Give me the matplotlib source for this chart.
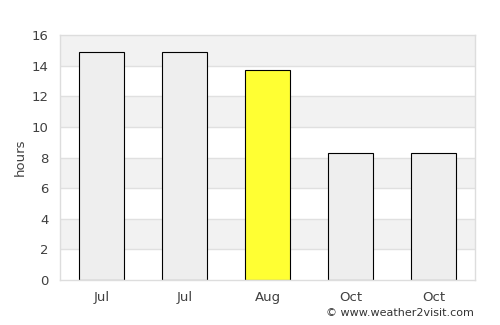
import matplotlib
matplotlib.use("Agg")
import matplotlib.pyplot as plt

months = ["Jul", "Jul", "Aug", "Oct", "Oct"]
hours = [14.9, 14.9, 13.7, 8.3, 8.3]
bar_colors = ["#eeeeee", "#eeeeee", "#ffff33", "#eeeeee", "#eeeeee"]
y_ticks = [0, 2, 4, 6, 8, 10, 12, 14, 16]

fig = plt.figure(figsize=(5, 3.25), dpi=100)
ax = fig.add_axes([0.12, 0.1385, 0.83, 0.7535])

# alternating background bands
for lo in range(0, 16, 2):
    ax.axhspan(lo, lo + 2, color="#f2f2f2" if (lo // 2) % 2 == 1 else "white", zorder=0, lw=0)
for t in y_ticks[1:-1]:
    ax.axhline(t, color="#e0e0e0", lw=1, zorder=1)

ax.bar(range(len(months)), hours, width=0.55, color=bar_colors,
       edgecolor="black", linewidth=0.8, zorder=2)

ax.set_xlim(-0.5, len(months) - 0.5)
ax.set_ylim(0, 16)
ax.set_yticks(y_ticks)
ax.set_xticks(range(len(months)))
ax.set_xticklabels(months)
ax.tick_params(axis="both", colors="#404040", labelsize=9.5, length=0)
ax.tick_params(axis="y", pad=8)
ax.tick_params(axis="x", pad=8)
for s in ax.spines.values():
    s.set_color("#dddddd")
    s.set_linewidth(1)
ax.set_ylabel("hours", color="#404040", fontsize=9.5, labelpad=4)

fig.text(0.948, 0.022, "© www.weather2visit.com", ha="right", va="bottom",
         fontsize=8, color="#333333")

fig.savefig("out.png", dpi=100)
